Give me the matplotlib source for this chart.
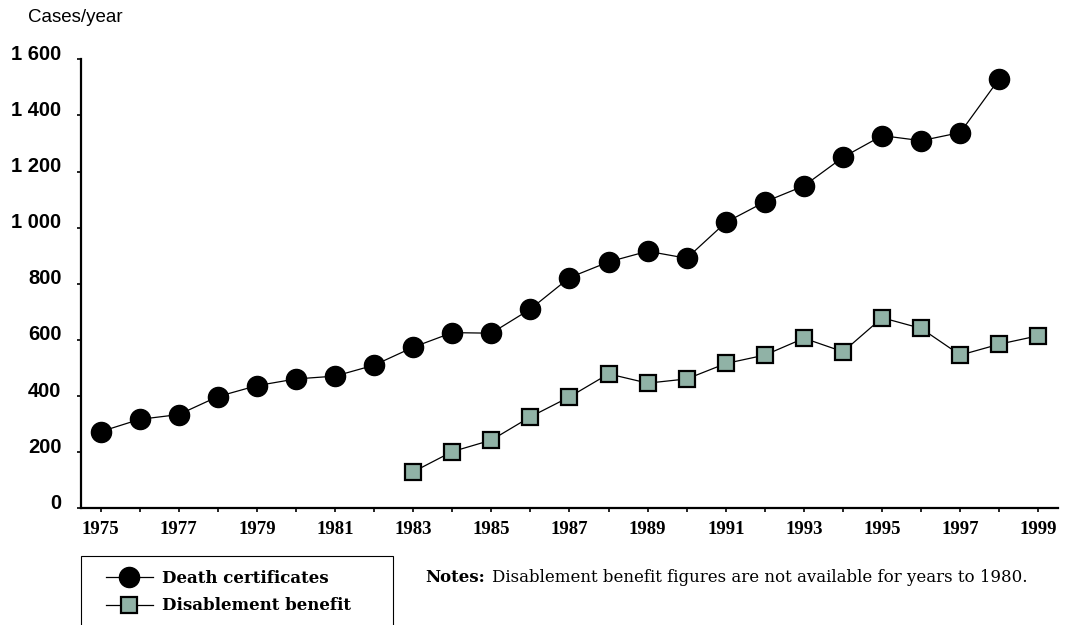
import matplotlib.pyplot as plt
import matplotlib.transforms as mtransforms
from matplotlib.patches import Rectangle

# cases per year
death_years = list(range(1975, 1999))
death_cases = [273, 317, 334, 398, 437, 461, 471, 510, 574, 626, 624, 710,
               822, 878, 916, 891, 1019, 1092, 1149, 1251, 1328, 1310, 1339, 1531]

benefit_years = list(range(1983, 2000))
benefit_cases = [130, 202, 243, 326, 397, 479, 446, 461, 516, 546, 606, 558,
                 679, 641, 546, 585, 615]

year_ticks = list(range(1975, 2000))
year_labels = [str(y) if y % 2 == 1 else '' for y in year_ticks]
case_ticks = [0, 200, 400, 600, 800, 1000, 1200, 1400, 1600]
case_labels = ['0', '200', '400', '600', '800', '1 000', '1 200', '1 400', '1 600']

W, H = 1066, 625
fig = plt.figure(figsize=(W / 100, H / 100), dpi=100)
ax = fig.add_axes([81 / W, 1 - 508.3 / H, (1058 - 81) / W, (508.3 - 59.3) / H])

line_death, = ax.plot(death_years, death_cases, color='black', lw=0.9,
                      marker='o', markersize=14.5, markerfacecolor='black',
                      markeredgecolor='black', label='Death certificates', zorder=3)
line_benefit, = ax.plot(benefit_years, benefit_cases, color='black', lw=0.9,
                        marker='s', markersize=11, markerfacecolor='#90b2a6',
                        markeredgecolor='black', markeredgewidth=1.6,
                        label='Disablement benefit', zorder=3)

ax.set_xlim(1974.5, 1999.5)
ax.set_ylim(0, 1600)
for side in ('top', 'right'):
    ax.spines[side].set_visible(False)
for side in ('left', 'bottom'):
    ax.spines[side].set_linewidth(1.6)

ax.set_xticks(year_ticks)
ax.set_xticklabels(year_labels, fontfamily='Liberation Serif', fontweight='bold',
                   fontsize=13.5)
ax.set_yticks(case_ticks)
ax.set_yticklabels(case_labels, fontfamily='Liberation Sans', fontweight='bold',
                   fontsize=14.5)
ax.tick_params(axis='x', direction='out', length=3, width=1.2, pad=6.5)
ax.tick_params(axis='y', direction='out', length=3, width=1.2, pad=11)

# y labels sit a little above their ticks
shift = mtransforms.ScaledTranslation(0, 7 / 100, fig.dpi_scale_trans)
for lab in ax.get_yticklabels():
    lab.set_transform(lab.get_transform() + shift)

fig.text(28 / W, 1 - 17 / H, 'Cases/year', fontfamily='Liberation Sans',
         fontsize=13.5, ha='left', va='center')

# legend box, open at the bottom edge of the figure
fig.patches.append(Rectangle((81 / W, 1 - 640 / H), (393 - 81) / W, (640 - 556) / H,
                             transform=fig.transFigure, fill=False,
                             edgecolor='black', lw=0.8))
fig.legend(handles=[line_death, line_benefit], loc='upper left',
           bbox_to_anchor=(106 / W, 1 - 570 / H), frameon=False,
           prop={'family': 'DejaVu Serif', 'weight': 'bold', 'size': 12},
           handlelength=2.8, handletextpad=0.55, labelspacing=0.62,
           borderpad=0, borderaxespad=0)

notes = fig.text(425 / W, 1 - 577 / H, 'Notes:', fontfamily='DejaVu Serif',
                 fontweight='bold', fontsize=12, ha='left', va='center')
ax.annotate('Disablement benefit figures are not available for years to 1980.',
            xy=(1, 0.5), xycoords=notes, xytext=(5, 0), textcoords='offset points',
            fontfamily='DejaVu Serif', fontsize=12, ha='left', va='center',
            annotation_clip=False)

fig.savefig('out.png', dpi=100)
